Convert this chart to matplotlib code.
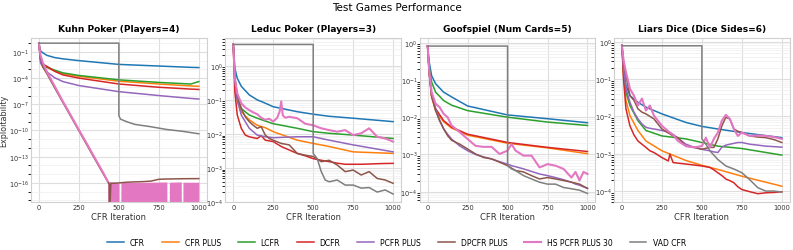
import numpy as np
import matplotlib.pyplot as plt
from matplotlib.ticker import LogLocator, NullFormatter

# nombres de las series (orden de la leyenda)
labels = ['CFR', 'CFR PLUS', 'LCFR', 'DCFR', 'PCFR PLUS', 'DPCFR PLUS', 'HS PCFR PLUS 30', 'VAD CFR']
colors = ['#1f77b4', '#ff7f0e', '#2ca02c', '#d62728', '#9467bd', '#8c564b', '#e377c2', '#7f7f7f']
titles = ['Kuhn Poker (Players=4)', 'Leduc Poker (Players=3)',
          'Goofspiel (Num Cards=5)', 'Liars Dice (Dice Sides=6)']

# ---------------- Kuhn ----------------
kuhn_it = [0, 10, 25, 50, 100, 150, 250, 500, 750, 950, 1000]
kuhn_cfr = [1.0, 0.13, 0.077, 0.04, 0.022, 0.016, 0.01, 0.0037, 0.0024, 0.0017, 0.0016]
kuhn_cfr_plus = [1.0, 0.014, 0.0045, 0.0016, 6.3e-4, 3.2e-4, 1.6e-4, 4.4e-5, 2.1e-5, 1.26e-5, 1.15e-5]
kuhn_lcfr = [1.0, 0.017, 0.0045, 0.0018, 8e-4, 4e-4, 2e-4, 6.3e-5, 3.2e-5, 2.1e-5, 4e-5]
kuhn_dcfr = [1.0, 0.011, 0.0037, 0.0022, 5.8e-4, 2.3e-4, 1e-4, 2.1e-5, 8.9e-6, 5.5e-6, 5e-6]
kuhn_pcfr_plus = [1.0, 0.0054, 0.0018, 5e-4, 1.07e-4, 4e-5, 1.4e-5, 2.8e-6, 1e-6, 4.7e-7, 4e-7]
kuhn_dp_it = [0, 10, 25, 50, 100, 150, 200, 250, 300, 350, 400, 440, 441, 450, 500,
              550, 600, 650, 700, 750, 800, 900, 1000]
kuhn_dpcfr_plus = [1.0, 0.026, 1.8e-3, 3.1e-4, 6.8e-6, 1.6e-7, 3.9e-9, 9.3e-11, 2.2e-12,
                   5.2e-14, 1.3e-15, 6.8e-17, 1e-20, 8.7e-17, 1e-16, 1.2e-16, 1.3e-16,
                   1.4e-16, 1.6e-16, 2.6e-16, 2.8e-16, 3e-16, 3.1e-16]
kuhn_hs_it = [0, 10, 25, 50, 100, 150, 200, 250, 300, 350, 400, 430]
kuhn_hs = [1.0, 0.041, 5.4e-3, 5e-4, 1.05e-5, 2.1e-7, 5.2e-9, 1.2e-10, 3e-12, 7e-14,
           1.7e-15, 1.6e-16]
# banda ruidosa de HS (valores entre ~1e-16 y 0)
kuhn_hs_band_it = [430, 500, 501, 512, 513, 700, 800, 801, 815, 816, 890, 891, 900, 901, 1000]
kuhn_hs_band_top = [1.5e-16, 1e-16, 1e-20, 1e-20, 1.1e-16, 1.2e-16, 1.3e-16, 1e-20,
                    1e-20, 1.2e-16, 1.3e-16, 1e-20, 1e-20, 1.2e-16, 1.2e-16]
kuhn_vad_it = [0, 500, 500, 510, 550, 600, 700, 800, 900, 1000]
kuhn_vad = [1.0, 1.0, 5e-9, 2e-9, 1e-9, 5e-10, 2.7e-10, 1.3e-10, 8e-11, 4.2e-11]

# ---------------- Leduc ----------------
leduc_it = [0, 10, 25, 50, 100, 150, 200, 250, 400, 500, 600, 750, 1000]
leduc_cfr = [4.2, 0.83, 0.43, 0.25, 0.14, 0.10, 0.08, 0.063, 0.045, 0.038, 0.033, 0.029, 0.023]
leduc_cfr_plus = [4.2, 0.34, 0.088, 0.045, 0.026, 0.018, 0.0153, 0.0117, 0.0066, 0.0053, 0.0043, 0.003, 0.0027]
leduc_lcfr = [4.2, 0.43, 0.11, 0.056, 0.036, 0.029, 0.024, 0.02, 0.0147, 0.0117, 0.0105, 0.0093, 0.0074]
leduc_pcfr_plus = [4.2, 0.38, 0.10, 0.036, 0.0147, 0.0093, 0.0083, 0.0078, 0.0083, 0.0083, 0.0066, 0.0048, 0.003]
leduc_it_fine = [0, 10, 25, 50, 75, 100, 125, 150, 175, 200, 225, 250, 300, 350, 400,
                 450, 500, 550, 600, 650, 700, 750, 800, 850, 900, 950, 1000]
leduc_dcfr = [4.2, 0.17, 0.036, 0.0147, 0.0093, 0.0083, 0.0078, 0.0074, 0.0089, 0.0066,
              0.0063, 0.006, 0.0043, 0.0034, 0.0027, 0.0023, 0.0019, 0.0017, 0.00155,
              0.0014, 0.0013, 0.0013, 0.0013, 0.00132, 0.00135, 0.00137, 0.00138]
leduc_dpcfr_plus = [4.2, 0.43, 0.14, 0.056, 0.032, 0.023, 0.018, 0.0147, 0.0163, 0.0093,
                    0.0074, 0.0066, 0.0053, 0.0048, 0.0027, 0.0024, 0.0022, 0.00155,
                    0.0017, 0.00124, 0.00079, 0.00088, 0.00063, 0.00079, 0.0005,
                    0.00045, 0.00036]
leduc_hs_it = [0, 10, 25, 50, 75, 100, 125, 150, 175, 200, 225, 250, 275, 290, 300, 310,
               325, 350, 400, 450, 500, 550, 600, 650, 700, 750, 800, 850, 900, 950, 1000]
leduc_hs = [4.2, 0.43, 0.155, 0.079, 0.06, 0.05, 0.043, 0.038, 0.03, 0.026, 0.028, 0.023,
            0.03, 0.045, 0.09, 0.035, 0.03, 0.032, 0.029, 0.02, 0.018, 0.0147, 0.013,
            0.0117, 0.013, 0.0093, 0.0105, 0.0147, 0.0083, 0.0074, 0.006]
leduc_vad_it = [0, 500, 500, 525, 550, 575, 600, 650, 700, 750, 800, 850, 900, 950, 1000]
leduc_vad = [4.2, 4.2, 0.0027, 0.0019, 0.0008, 0.00045, 0.0004, 0.00045, 0.00032,
             0.00032, 0.00026, 0.00027, 0.0002, 0.00023, 0.000175]

# ---------------- Goofspiel ----------------
goof_it = [0, 10, 25, 50, 100, 150, 250, 500, 750, 1000]
goof_cfr = [0.81, 0.30, 0.13, 0.079, 0.047, 0.035, 0.020, 0.0115, 0.0091, 0.0071]
goof_cfr_plus = [0.81, 0.15, 0.034, 0.015, 0.0076, 0.0051, 0.0033, 0.002, 0.0015, 0.00105]
goof_lcfr = [0.81, 0.22, 0.088, 0.047, 0.028, 0.021, 0.015, 0.010, 0.0074, 0.006]
goof_dcfr = [0.81, 0.16, 0.038, 0.017, 0.0081, 0.0054, 0.0035, 0.0021, 0.00155, 0.0012]
goof_it_fine = [0, 10, 25, 50, 75, 100, 125, 150, 200, 250, 300, 350, 400, 450, 500, 525,
                550, 600, 650, 700, 750, 800, 850, 900, 925, 950, 975, 1000]
goof_pcfr_plus = [0.81, 0.16, 0.038, 0.017, 0.0085, 0.0049, 0.0035, 0.0026, 0.0017,
                  0.00126, 0.001, 0.00086, 0.00076, 0.00064, 0.00055, 0.0005, 0.00047,
                  0.00041, 0.00035, 0.0003, 0.00027, 0.00024, 0.00021, 0.00018,
                  0.00016, 0.00015, 0.000135, 0.000123]
goof_dpcfr_plus = [0.81, 0.16, 0.038, 0.015, 0.008, 0.0049, 0.0032, 0.0024, 0.0019,
                   0.0014, 0.00103, 0.00083, 0.00076, 0.00062, 0.0005, 0.00043, 0.00037,
                   0.00034, 0.00027, 0.00022, 0.00024, 0.00022, 0.0002, 0.00018,
                   0.00017, 0.00016, 0.00014, 0.000123]
goof_hs = [0.81, 0.18, 0.047, 0.023, 0.0186, 0.0123, 0.01, 0.006, 0.004, 0.0026, 0.0017,
           0.0016, 0.0016, 0.00103, 0.00127, 0.0019, 0.00127, 0.00093, 0.00093, 0.00045,
           0.00055, 0.0005, 0.00041, 0.00024, 0.00034, 0.0002, 0.00034, 0.0003]
goof_vad_it = [0, 500, 500, 525, 550, 600, 650, 700, 750, 800, 850, 900, 950, 1000]
goof_vad = [0.81, 0.81, 0.0005, 0.00041, 0.00037, 0.00027, 0.00022, 0.00018, 0.00016,
            0.00016, 0.00013, 0.00012, 0.00011, 0.00009]

# ---------------- Liars Dice ----------------
liars_it = [0, 10, 25, 50, 100, 150, 250, 400, 500, 600, 750, 1000]
liars_cfr = [0.8, 0.19, 0.068, 0.036, 0.024, 0.0177, 0.0117, 0.0069, 0.0054, 0.0046, 0.0037, 0.0027]
liars_cfr_plus = [0.8, 0.126, 0.027, 0.0105, 0.0042, 0.0022, 0.0012, 0.00066, 0.00049, 0.00038, 0.00025, 0.000135]
liars_lcfr = [0.8, 0.155, 0.045, 0.0195, 0.0077, 0.0042, 0.003, 0.0025, 0.002, 0.0016, 0.00138, 0.00092]
liars_it_fine = [0, 10, 25, 50, 75, 100, 125, 150, 175, 200, 250, 290, 300, 320, 350, 400,
                 450, 500, 525, 550, 575, 600, 625, 650, 675, 700, 725, 750, 800, 850,
                 900, 950, 1000]
liars_dcfr = [0.8, 0.1, 0.016, 0.0056, 0.0032, 0.0022, 0.0018, 0.00148, 0.0012, 0.00108,
              0.00079, 0.00064, 0.00098, 0.00058, 0.00056, 0.00053, 0.0005, 0.00047,
              0.00045, 0.00043, 0.00037, 0.00031, 0.00026, 0.00021, 0.00019, 0.000167,
              0.00013, 0.00011, 0.000096, 0.000085, 0.00009, 0.000092, 0.000096]
liars_pcfr_plus = [0.8, 0.19, 0.055, 0.024, 0.013, 0.0086, 0.0063, 0.0051, 0.0048, 0.0046,
                   0.0042, 0.0038, 0.0037, 0.0033, 0.0026, 0.0018, 0.0015, 0.00132,
                   0.00125, 0.0012, 0.00112, 0.00108, 0.0015, 0.0017, 0.0018, 0.0019,
                   0.002, 0.002, 0.0018, 0.0017, 0.0016, 0.00155, 0.0015]
liars_dpcfr_plus = [0.8, 0.29, 0.126, 0.036, 0.027, 0.016, 0.013, 0.0117, 0.01, 0.0086,
                    0.0046, 0.0036, 0.0034, 0.003, 0.0027, 0.0016, 0.00148, 0.00132,
                    0.0014, 0.00148, 0.00148, 0.0025, 0.0056, 0.0095, 0.0085, 0.0046,
                    0.004, 0.0037, 0.003, 0.0028, 0.0027, 0.0024, 0.002]
liars_hs = [0.8, 0.32, 0.155, 0.055, 0.036, 0.0195, 0.03, 0.0144, 0.0195, 0.0105, 0.0056,
            0.004, 0.0037, 0.0032, 0.0022, 0.0016, 0.00148, 0.0016, 0.0027, 0.00148,
            0.0025, 0.0037, 0.0077, 0.011, 0.0086, 0.0046, 0.003, 0.0037, 0.003, 0.0031,
            0.003, 0.0028, 0.0025]
liars_vad_it = [0, 500, 500, 525, 550, 600, 650, 700, 750, 800, 850, 900, 950, 1000]
liars_vad = [0.78, 0.78, 0.0025, 0.0018, 0.0012, 0.0007, 0.00047, 0.00039, 0.00031,
             0.0002, 0.000123, 0.0001, 0.0001, 0.000094]

# (x, y) de cada serie por panel, en el orden de labels
panels = [
    [(kuhn_it, kuhn_cfr), (kuhn_it, kuhn_cfr_plus), (kuhn_it, kuhn_lcfr), (kuhn_it, kuhn_dcfr),
     (kuhn_it, kuhn_pcfr_plus), (kuhn_dp_it, kuhn_dpcfr_plus), (kuhn_hs_it, kuhn_hs),
     (kuhn_vad_it, kuhn_vad)],
    [(leduc_it, leduc_cfr), (leduc_it, leduc_cfr_plus), (leduc_it, leduc_lcfr),
     (leduc_it_fine, leduc_dcfr), (leduc_it, leduc_pcfr_plus),
     (leduc_it_fine, leduc_dpcfr_plus), (leduc_hs_it, leduc_hs), (leduc_vad_it, leduc_vad)],
    [(goof_it, goof_cfr), (goof_it, goof_cfr_plus), (goof_it, goof_lcfr), (goof_it, goof_dcfr),
     (goof_it_fine, goof_pcfr_plus), (goof_it_fine, goof_dpcfr_plus),
     (goof_it_fine, goof_hs), (goof_vad_it, goof_vad)],
    [(liars_it, liars_cfr), (liars_it, liars_cfr_plus), (liars_it, liars_lcfr),
     (liars_it_fine, liars_dcfr), (liars_it_fine, liars_pcfr_plus),
     (liars_it_fine, liars_dpcfr_plus), (liars_it_fine, liars_hs),
     (liars_vad_it, liars_vad)],
]
ylims = [(6e-19, 3.5), (1e-4, 6.3), (5.2e-5, 1.3), (5e-5, 1.23)]
yticks = [[1e-1, 1e-4, 1e-7, 1e-10, 1e-13, 1e-16],
          [1e0, 1e-1, 1e-2, 1e-3, 1e-4],
          [1e0, 1e-1, 1e-2, 1e-3, 1e-4],
          [1e0, 1e-1, 1e-2, 1e-3, 1e-4]]

fig = plt.figure(figsize=(7.93, 2.51), dpi=100)
axes = fig.subplots(1, 4)
fig.subplots_adjust(left=0.039, right=0.996, top=0.843, bottom=0.19, wspace=0.105)

for i, ax in enumerate(axes):
    for j, (x, y) in enumerate(panels[i]):
        lw = 1.5 if j == 6 else 1.1
        ax.plot(x, y, color=colors[j], lw=lw, label=labels[j])
    if i == 0:
        ax.fill_between(kuhn_hs_band_it, 1e-20, kuhn_hs_band_top, color=colors[6], lw=0)
    ax.set_yscale('log')
    ax.set_ylim(*ylims[i])
    ax.set_xlim(-50, 1050)
    ax.set_xticks([0, 250, 500, 750, 1000])
    ax.set_yticks(yticks[i])
    ax.yaxis.set_minor_locator(LogLocator(base=10, subs='all', numticks=100))
    ax.yaxis.set_minor_formatter(NullFormatter())
    ax.grid(True, which='major', color='#dedede', lw=0.8)
    ax.grid(True, which='minor', axis='y', color='#efefef', lw=0.5)
    ax.set_axisbelow(True)
    for s in ax.spines.values():
        s.set_color('#d0d0d0')
        s.set_linewidth(0.8)
    ax.tick_params(length=0, labelsize=4.8, labelcolor='#333333', pad=1.5)
    ax.set_title(titles[i], fontsize=6.5, fontweight='bold', pad=5)
    ax.set_xlabel('CFR Iteration', fontsize=6, color='#333333', labelpad=1)

axes[0].set_ylabel('Exploitability', fontsize=5.8, color='#333333')
axes[0].yaxis.set_label_coords(-0.128, 0.5)

fig.suptitle('Test Games Performance', fontsize=7.5, y=0.99)
handles, labs = axes[0].get_legend_handles_labels()
fig.legend(handles, labs, loc='lower center', ncol=8, frameon=False, fontsize=5.5,
           bbox_to_anchor=(0.5, -0.015), handlelength=2.2, columnspacing=2.2)

plt.savefig('out.png', dpi=100)
